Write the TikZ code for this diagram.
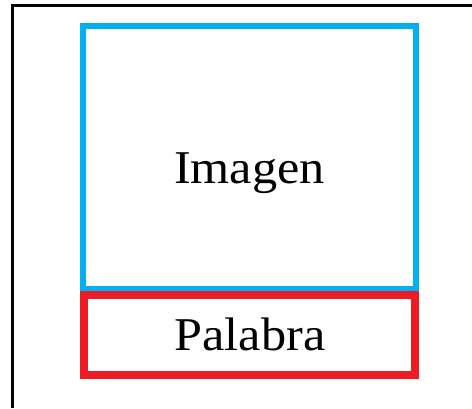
\documentclass[tikz,border=0pt]{standalone}
\usepackage{fontspec}
\setmainfont{Liberation Serif}
\definecolor{boxblue}{HTML}{00B0F0}
\definecolor{boxred}{HTML}{ED1C24}
\begin{document}
\begin{tikzpicture}[x=1pt,y=-1pt,
  lbl/.style={font=\fontsize{47}{50}\selectfont, anchor=base, inner sep=0pt}]
\useasboundingbox (0,0) rectangle (472,408);
\fill[white] (0,0) rectangle (472,408);
\draw[line width=3pt] (12.5,408) -- (12.5,5.5) -- (472,5.5);
\draw[boxblue, line width=5.5pt] (83,26) rectangle (416,289);
\draw[boxred, line width=8pt] (84,295) rectangle (415,374.5);
\node[lbl] (img) at (249.5,183.3) {\scalebox{1.07}[1]{Imagen}};
\node[lbl] (pal) at (250,350) {\scalebox{1.07}[1]{Palabra}};
\end{tikzpicture}
\end{document}
